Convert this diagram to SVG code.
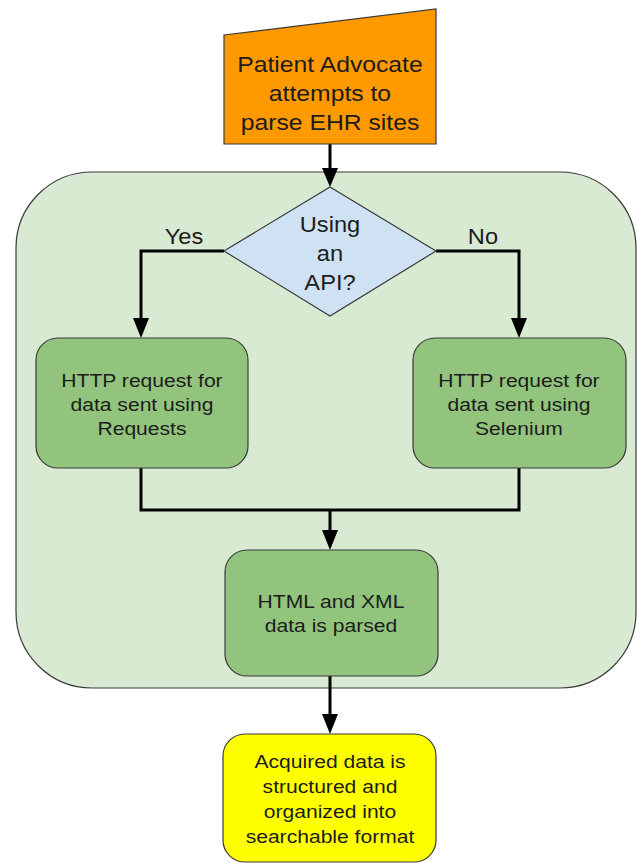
<svg xmlns="http://www.w3.org/2000/svg" width="637" height="863" viewBox="0 0 637 863">
<defs>
<style>
.t{font-family:"Liberation Sans",Arial,sans-serif;fill:#1c1c1c;text-anchor:middle}
.big{font-size:21.5px}
.sm{font-size:18.5px}
.edge{fill:none;stroke:#000;stroke-width:3}
.box{stroke:#3a3a3a;stroke-width:1.2}
.head{fill:#000}
</style>
</defs>
<rect width="637" height="863" fill="#fff"/>
<g id="container">
<rect x="16" y="172" width="620" height="516" rx="76" ry="76" fill="#d9ead3" stroke="#3a3a3a" stroke-width="1.2"/>
</g>
<g id="connectors">
<path class="edge" d="M330,144 V170"/>
<path class="head" d="M322,168 L338,168 L330,187 Z"/>
<path class="edge" d="M224,251 H141 V320"/>
<path class="head" d="M133,318 L149,318 L141,338 Z"/>
<path class="edge" d="M436,251 H519 V320"/>
<path class="head" d="M511,318 L527,318 L519,338 Z"/>
<path class="edge" d="M141,468 V510 H519 V468"/>
<path class="edge" d="M330,510 V532"/>
<path class="head" d="M322,530 L338,530 L330,550 Z"/>
<path class="edge" d="M330,676 V716"/>
<path class="head" d="M322,714 L338,714 L330,734 Z"/>
<g class="t big">
<text x="184" y="244" transform="translate(184 0) scale(1.1 1) translate(-184 0)">Yes</text>
<text x="483" y="244" transform="translate(483 0) scale(1.1 1) translate(-483 0)">No</text>
</g>
</g>
<g id="start">
<polygon points="224,35 436,9 436,144 224,144" fill="#ff9900" stroke="#3a3a3a" stroke-width="1.2"/>
<g class="t big" transform="translate(330 0) scale(1.15 1) translate(-330 0)">
<text x="330" y="72">Patient Advocate</text>
<text x="330" y="101">attempts to</text>
<text x="330" y="130">parse EHR sites</text>
</g>
</g>
<g id="decision">
<polygon points="330,187 436,251 330,316 224,251" fill="#cfe2f3" stroke="#3a3a3a" stroke-width="1.2"/>
<g class="t big" transform="translate(330 0) scale(1.1 1) translate(-330 0)">
<text x="330" y="232">Using</text>
<text x="330" y="261">an</text>
<text x="330" y="290">API?</text>
</g>
</g>
<g id="requests">
<rect class="box" x="36" y="338" width="212" height="130" rx="22" fill="#93c47d"/>
<g class="t sm" transform="translate(142 0) scale(1.14 1) translate(-142 0)">
<text x="142" y="387">HTTP request for</text>
<text x="142" y="411">data sent using</text>
<text x="142" y="435">Requests</text>
</g>
</g>
<g id="selenium">
<rect class="box" x="413" y="338" width="213" height="130" rx="22" fill="#93c47d"/>
<g class="t sm" transform="translate(519 0) scale(1.14 1) translate(-519 0)">
<text x="519" y="387">HTTP request for</text>
<text x="519" y="411">data sent using</text>
<text x="519" y="435">Selenium</text>
</g>
</g>
<g id="parse">
<rect class="box" x="225" y="550" width="213" height="126" rx="22" fill="#93c47d"/>
<g class="t sm" transform="translate(331 0) scale(1.14 1) translate(-331 0)">
<text x="331" y="608">HTML and XML</text>
<text x="331" y="632">data is parsed</text>
</g>
</g>
<g id="output">
<rect class="box" x="223" y="734" width="213" height="128" rx="22" fill="#ffff00"/>
<g class="t sm" transform="translate(330 0) scale(1.14 1) translate(-330 0)">
<text x="330" y="768">Acquired data is</text>
<text x="330" y="793">structured and</text>
<text x="330" y="818">organized into</text>
<text x="330" y="843">searchable format</text>
</g>
</g>
</svg>
